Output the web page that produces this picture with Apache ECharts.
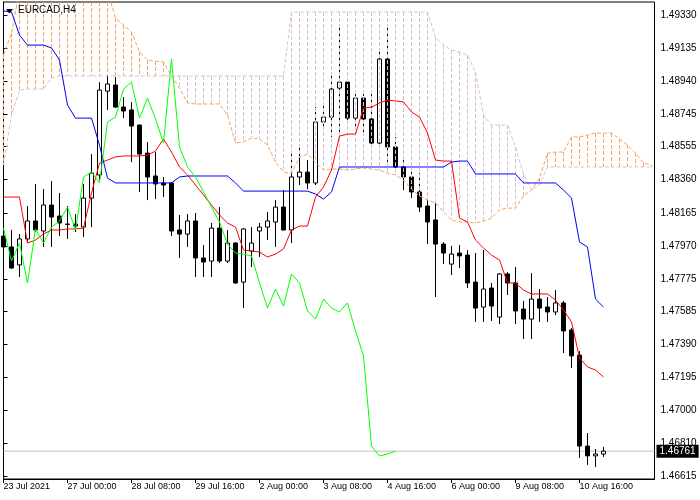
<!DOCTYPE html>
<html>
<head>
<meta charset="utf-8">
<script src="https://cdn.jsdelivr.net/npm/echarts@6/dist/echarts.min.js"></script>
<style>html,body{margin:0;padding:0;background:#fff}#c{width:700px;height:500px}</style>
</head>
<body>
<div id="c"></div>
<script>
// ---- data (EURCAD, H4) ----
const symbolTitle = 'EURCAD,H4';
const timeLabels = ['23 Jul 2021','27 Jul 00:00','28 Jul 08:00','29 Jul 16:00','2 Aug 00:00','3 Aug 08:00','4 Aug 16:00','6 Aug 00:00','9 Aug 08:00','10 Aug 16:00'];
const timeLabelBars = [0,8,16,24,32,40,48,56,64,72];
const priceTicks = [1.46615,1.46810,1.47000,1.47195,1.47390,1.47585,1.47775,1.47970,1.48165,1.48360,1.48555,1.48745,1.48940,1.49135,1.49330];
const lastPrice = 1.46761;

const opens = [1.48028,1.47964,1.47858,1.48011,1.48117,1.48058,1.48211,1.48146,1.48099,1.48099,
1.48081,1.48252,1.48388,1.48882,1.48918,1.48788,1.48771,1.48682,1.48517,1.48382,
1.48341,1.48341,1.48064,1.48040,1.48117,1.47899,1.47881,1.48075,1.47881,1.47987,
1.47757,1.47940,1.48058,1.48081,1.48111,1.48199,1.48064,1.48376,1.48405,1.48341,
1.48700,1.48729,1.48900,1.48935,1.48723,1.48841,1.48718,1.48576,1.49071,1.48553,
1.48435,1.48376,1.48288,1.48205,1.48123,1.47981,1.47863,1.47928,1.47916,1.47757,
1.47610,1.47722,1.47551,1.47805,1.47752,1.47598,1.47539,1.47657,1.47610,1.47581,
1.47634,1.47475,1.47327,1.46791,1.46733,1.46744];
const closes = [1.47964,1.47840,1.48011,1.48117,1.48064,1.48211,1.48140,1.48105,1.48097,1.48087,
1.48252,1.48399,1.48888,1.48924,1.48788,1.48765,1.48676,1.48511,1.48376,1.48335,
1.48329,1.48058,1.48040,1.48117,1.47899,1.47875,1.48075,1.47881,1.47987,1.47752,
1.48070,1.47987,1.48081,1.48117,1.48199,1.48064,1.48376,1.48405,1.48341,1.48700,
1.48729,1.48894,1.48935,1.48723,1.48841,1.48718,1.48576,1.49071,1.48553,1.48435,
1.48376,1.48288,1.48199,1.48111,1.47981,1.47928,1.47922,1.47911,1.47752,1.47604,
1.47716,1.47616,1.47805,1.47752,1.47587,1.47539,1.47657,1.47604,1.47581,1.47634,
1.47469,1.47322,1.46791,1.46733,1.46744,1.46761];
const lows = [1.47875,1.47835,1.47787,1.47987,1.48052,1.47964,1.47964,1.48028,1.48011,1.48052,
1.48022,1.48081,1.48358,1.48771,1.48782,1.48723,1.48464,1.48288,1.48240,1.48246,
1.48258,1.48028,1.47899,1.47964,1.47787,1.47787,1.47787,1.47869,1.47869,1.47746,
1.47604,1.47846,1.47905,1.48005,1.47964,1.48060,1.47987,1.48329,1.48305,1.48329,
1.48670,1.48612,1.48612,1.48688,1.48665,1.48635,1.48553,1.48547,1.48447,1.48405,
1.48299,1.48252,1.48170,1.47981,1.47669,1.47863,1.47799,1.47840,1.47722,1.47522,
1.47522,1.47528,1.47510,1.47681,1.47510,1.47422,1.47422,1.47522,1.47522,1.47563,
1.47339,1.47251,1.46721,1.46680,1.46668,1.46727];
const highs = [1.48075,1.48064,1.48040,1.48205,1.48335,1.48305,1.48352,1.48282,1.48205,1.48158,
1.48335,1.48511,1.48935,1.48977,1.48965,1.48847,1.48818,1.48685,1.48582,1.48523,
1.48376,1.48346,1.48152,1.48158,1.48164,1.47975,1.48105,1.48199,1.48064,1.47993,
1.48075,1.48081,1.48105,1.48170,1.48240,1.48299,1.48523,1.48570,1.48476,1.48788,
1.48794,1.48988,1.49271,1.48947,1.48888,1.48877,1.48888,1.49124,1.49253,1.48612,
1.48500,1.48405,1.48399,1.48252,1.48240,1.47993,1.47970,1.47975,1.47946,1.47928,
1.47946,1.47752,1.47810,1.47816,1.47846,1.47646,1.47810,1.47716,1.47669,1.47710,
1.47646,1.47486,1.47351,1.46868,1.46774,1.46786];

const tenkan = [1.48258,1.48258,1.48258,1.47987,1.48005,1.48040,1.48064,1.48064,1.48070,1.48070,
1.48075,1.48282,1.48458,1.48476,1.48494,1.48500,1.48500,1.48500,1.48505,1.48529,
1.48600,1.48523,1.48435,1.48388,1.48329,1.48270,1.48211,1.48152,1.48105,1.48081,
1.47946,1.47940,1.47934,1.47905,1.47922,1.47952,1.48064,1.48087,1.48087,1.48258,
1.48317,1.48417,1.48617,1.48629,1.48629,1.48782,1.48788,1.48812,1.48829,1.48824,
1.48818,1.48759,1.48729,1.48635,1.48476,1.48470,1.48470,1.48134,1.48111,1.48005,
1.47958,1.47916,1.47887,1.47752,1.47752,1.47710,1.47687,1.47687,1.47687,1.47651,
1.47593,1.47522,1.47310,1.47257,1.47239,1.47198];
const kijun = [1.49354,1.49348,1.49212,1.49153,1.49153,1.49153,1.49136,1.49065,1.48800,1.48723,
1.48723,1.48723,1.48564,1.48370,1.48341,1.48341,1.48341,1.48341,1.48341,1.48341,
1.48341,1.48341,1.48376,1.48382,1.48382,1.48382,1.48382,1.48382,1.48382,1.48341,
1.48293,1.48293,1.48293,1.48293,1.48293,1.48293,1.48293,1.48293,1.48293,1.48276,
1.48246,1.48288,1.48435,1.48435,1.48435,1.48435,1.48435,1.48435,1.48435,1.48435,
1.48435,1.48435,1.48435,1.48435,1.48435,1.48435,1.48464,1.48470,1.48470,1.48394,
1.48394,1.48394,1.48394,1.48394,1.48394,1.48341,1.48341,1.48341,1.48341,1.48341,
1.48299,1.48252,1.47993,1.47964,1.47657,1.47610];
// Senkou spans, bars 0..81 (shifted 26 bars forward)
const senkouA = [1.49094,1.49224,1.49477,1.49477,1.49477,1.49477,1.49477,1.49477,1.49477,1.49477,
1.49477,1.49477,1.49477,1.49477,1.49312,1.49271,1.49230,1.49112,1.49065,1.49059,
1.49053,1.48971,1.48900,1.48812,1.48806,1.48806,1.48806,1.48806,1.48741,1.48576,
1.48582,1.48606,1.48600,1.48564,1.48464,1.48405,1.48399,1.48494,1.48511,1.48464,
1.48417,1.48423,1.48423,1.48417,1.48423,1.48429,1.48423,1.48417,1.48399,1.48388,
1.48358,1.48305,1.48264,1.48240,1.48223,1.48170,1.48123,1.48111,1.48111,1.48105,
1.48117,1.48134,1.48182,1.48193,1.48193,1.48264,1.48299,1.48370,1.48517,1.48523,
1.48523,1.48612,1.48612,1.48623,1.48635,1.48635,1.48635,1.48600,1.48564,1.48517,
1.48458,1.48447];
const senkouB = [1.48447,1.48741,1.48888,1.48894,1.48894,1.48894,1.48959,1.48971,1.48971,1.48971,
1.48971,1.48971,1.48971,1.48971,1.48971,1.48971,1.48971,1.48971,1.48971,1.48971,
1.48971,1.48971,1.48971,1.48971,1.48971,1.48971,1.48971,1.48971,1.48971,1.48971,
1.48971,1.48971,1.48971,1.48971,1.48971,1.48971,1.49348,1.49348,1.49348,1.49348,
1.49348,1.49348,1.49348,1.49348,1.49348,1.49348,1.49348,1.49348,1.49348,1.49348,
1.49348,1.49348,1.49348,1.49348,1.49200,1.49153,1.49124,1.49112,1.49094,1.48994,
1.48741,1.48682,1.48682,1.48682,1.48553,1.48394,1.48299,1.48329,1.48435,1.48435,
1.48435,1.48435,1.48435,1.48435,1.48435,1.48435,1.48435,1.48435,1.48435,1.48435,
1.48435,1.48435];
const chikouShift = 26;

// ---- axis range ----
const X_MAX = 81.375, Y_MIN = 1.46597, Y_MAX = 1.49407;

// ---- build series data ----
const ORANGE = '#F4A460', THISTLE = '#D8BFD8';
const candleData = opens.map((o, i) => [i, o, closes[i], lows[i], highs[i]]);
const tenkanData = tenkan.map((v, i) => [i, v]);
const kijunData = kijun.map((v, i) => [i, v]);
const chikouData = closes.slice(chikouShift).map((v, i) => [i, v]);
const spanAData = senkouA.map((v, i) => [i, v]);
const spanBData = senkouB.map((v, i) => [i, v]);
// cloud hatching: one vertical segment per bar, from span A to span B (broken by '-')
const kumoUp = [], kumoDown = [];
senkouA.forEach((a, i) => {
  const b = senkouB[i];
  const target = a > b ? kumoUp : kumoDown;
  target.push([i, Math.max(a, b)], [i, Math.min(a, b)], [i, '-']);
});

const FONT = '"Liberation Sans", Arial, sans-serif';
const chart = echarts.init(document.getElementById('c'), null, {renderer: 'canvas'});
chart.setOption({
  animation: false,
  backgroundColor: '#fff',
  grid: {left: 3.5, right: 45.5, top: 2, bottom: 21, show: true, borderColor: '#000', borderWidth: 1, backgroundColor: 'transparent'},
  xAxis: {
    type: 'value', min: 0, max: X_MAX,
    axisLine: {show: true, lineStyle: {color: '#000', width: 1}},
    axisTick: {show: true, customValues: timeLabelBars, length: 4, lineStyle: {color: '#000'}},
    axisLabel: {show: true, customValues: timeLabelBars, align: 'left', margin: 3, fontSize: 9, fontFamily: FONT, color: '#000',
      formatter: v => timeLabels[timeLabelBars.indexOf(Math.round(v))] || ''},
    splitLine: {show: false}
  },
  yAxis: {
    type: 'value', position: 'right', min: Y_MIN, max: Y_MAX, scale: true,
    axisLine: {show: true, lineStyle: {color: '#000', width: 1}},
    axisTick: {show: true, customValues: priceTicks, length: 4, lineStyle: {color: '#000'}},
    axisLabel: {show: true, customValues: priceTicks, margin: 6, fontSize: 10, fontFamily: FONT, color: '#000',
      formatter: v => v.toFixed(5)},
    splitLine: {show: false}
  },
  graphic: [
    {type: 'polygon', shape: {points: [[6, 9], [13, 9], [9.5, 13.5]]}, style: {fill: '#000'}, z: 100},
    {type: 'text', left: 18, top: 5, style: {text: symbolTitle, font: '10px ' + FONT, fill: '#000'}, z: 100}
  ],
  series: [
    {
      type: 'line', name: 'Last price', data: [[0, lastPrice], [X_MAX, lastPrice]], showSymbol: false, z: 1, silent: true,
      lineStyle: {color: '#C0C0C0', width: 1},
      endLabel: {show: true, formatter: lastPrice.toFixed(5), distance: 2, backgroundColor: '#000', color: '#fff',
        padding: [2, 3, 1, 3], fontSize: 10, fontFamily: FONT}
    },
    {
      type: 'candlestick', name: 'EURCAD', data: candleData, encode: {x: 0, y: [1, 2, 3, 4]},
      barWidth: 4, z: 2,
      itemStyle: {color: '#fff', color0: '#000', borderColor: '#000', borderColor0: '#000', borderWidth: 1}
    },
    {type: 'line', name: 'Kumo up', data: kumoUp, showSymbol: false, connectNulls: false, z: 3, clip: true, silent: true,
      lineStyle: {color: ORANGE, width: 1, type: [4, 2]}},
    {type: 'line', name: 'Kumo down', data: kumoDown, showSymbol: false, connectNulls: false, z: 3, clip: true, silent: true,
      lineStyle: {color: THISTLE, width: 1, type: [4, 2]}},
    {type: 'line', name: 'Senkou A', data: spanAData, showSymbol: false, z: 4, clip: true,
      lineStyle: {color: ORANGE, width: 1, type: [4, 2]}},
    {type: 'line', name: 'Senkou B', data: spanBData, showSymbol: false, z: 4, clip: true,
      lineStyle: {color: THISTLE, width: 1, type: [4, 2]}},
    {type: 'line', name: 'Tenkan', data: tenkanData, showSymbol: false, z: 5,
      lineStyle: {color: '#FF0000', width: 1}},
    {type: 'line', name: 'Kijun', data: kijunData, showSymbol: false, z: 5,
      lineStyle: {color: '#0000FF', width: 1}},
    {type: 'line', name: 'Chikou', data: chikouData, showSymbol: false, z: 5,
      lineStyle: {color: '#00FF00', width: 1}}
  ]
});
</script>
</body>
</html>
